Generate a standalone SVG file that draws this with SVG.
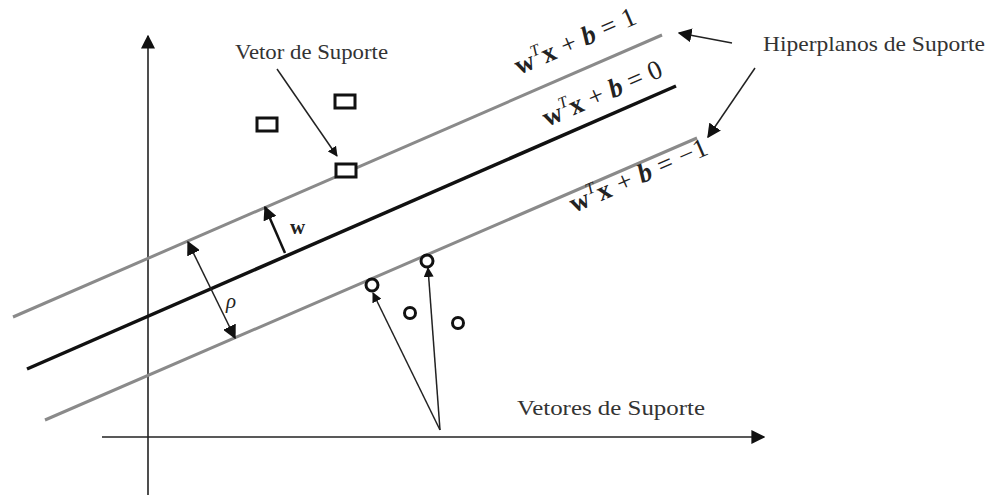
<svg xmlns="http://www.w3.org/2000/svg" width="987" height="496" viewBox="0 0 987 496">
<defs>
<marker id="ah" viewBox="0 0 10 10" refX="9" refY="5" markerWidth="10" markerHeight="10" markerUnits="userSpaceOnUse" orient="auto-start-reverse">
<path d="M0,0 L10,5 L0,10 z" fill="#111"/>
</marker>
<marker id="ahL" viewBox="0 0 10 10" refX="9" refY="5" markerWidth="14" markerHeight="14" markerUnits="userSpaceOnUse" orient="auto-start-reverse">
<path d="M0,0 L10,5 L0,10 z" fill="#111"/>
</marker>
</defs>
<style>
.lbl{font-family:"Liberation Serif",serif;font-size:21px;fill:#333}
.math{font-family:"Liberation Serif",serif;font-size:27px;fill:#222}
.b{font-weight:bold}
.i{font-style:italic}
.hp{stroke:#8a8a8a;stroke-width:3;fill:none}
.ax{stroke:#222;stroke-width:1.6;fill:none}
.ar{stroke:#222;stroke-width:1.5;fill:none}
.sq{fill:#fff;stroke:#111;stroke-width:3}
.ci{fill:none;stroke:#111;stroke-width:3}
</style>
<rect width="987" height="496" fill="#fff"/>
<g id="axes">
<line class="ax" x1="148" y1="495" x2="148" y2="36" marker-end="url(#ahL)"/>
<line class="ax" x1="102" y1="437" x2="764" y2="437" marker-end="url(#ahL)"/>
</g>
<g id="hyperplanes">
<line class="hp" x1="13" y1="317" x2="662" y2="35"/>
<line x1="27" y1="369" x2="676" y2="86" stroke="#111" stroke-width="3.5"/>
<line class="hp" x1="45" y1="420" x2="697" y2="138"/>
</g>
<g id="squares">
<rect class="sq" x="257" y="118" width="20" height="13"/>
<rect class="sq" x="335" y="95" width="20" height="13"/>
<rect class="sq" x="336" y="164" width="20" height="13"/>
</g>
<g id="circles">
<circle class="ci" cx="372" cy="285" r="6"/>
<circle class="ci" cx="427" cy="261" r="6"/>
<circle class="ci" cx="410" cy="313" r="5.5"/>
<circle class="ci" cx="458" cy="323" r="5.5"/>
</g>
<g id="connectors">
<line class="ar" x1="277" y1="69" x2="337" y2="156" marker-end="url(#ah)"/>
<line x1="285" y1="253" x2="265" y2="207" stroke="#111" stroke-width="2.5" marker-end="url(#ahL)"/>
<line class="ar" x1="188" y1="242" x2="235" y2="338" marker-start="url(#ahL)" marker-end="url(#ahL)"/>
<line class="ar" x1="440" y1="430" x2="373" y2="293" marker-end="url(#ah)"/>
<line class="ar" x1="440" y1="430" x2="428" y2="268" marker-end="url(#ah)"/>
<line class="ar" x1="732" y1="43" x2="679" y2="33" marker-end="url(#ahL)"/>
<line class="ar" x1="755" y1="68" x2="708" y2="137" marker-end="url(#ahL)"/>
</g>
<g id="labels">
<text class="lbl" x="235" y="59" textLength="153" lengthAdjust="spacingAndGlyphs">Vetor de Suporte</text>
<text class="lbl" x="763" y="51" textLength="222" lengthAdjust="spacingAndGlyphs">Hiperplanos de Suporte</text>
<text class="lbl" x="517" y="415" textLength="188" lengthAdjust="spacingAndGlyphs">Vetores de Suporte</text>
<text class="math b" x="290" y="234" style="font-size:21px">w</text>
<text class="math i" x="226" y="308" style="font-size:21px">ρ</text>
<text class="math" transform="translate(519,75) rotate(-23.5)" textLength="130"><tspan class="b">w</tspan><tspan class="i" font-size="16" dy="-11">T</tspan><tspan class="b" dy="11">x</tspan> + <tspan class="i b">b</tspan> = 1</text>
<text class="math" transform="translate(547,127) rotate(-23.5)" textLength="128"><tspan class="b">w</tspan><tspan class="i" font-size="16" dy="-11">T</tspan><tspan class="b" dy="11">x</tspan> + <tspan class="i b">b</tspan> = 0</text>
<text class="math" transform="translate(574,213) rotate(-23.5)" textLength="148"><tspan class="b">w</tspan><tspan class="i" font-size="16" dy="-11">T</tspan><tspan class="b" dy="11">x</tspan> + <tspan class="i b">b</tspan> = −1</text>
</g>
</svg>
